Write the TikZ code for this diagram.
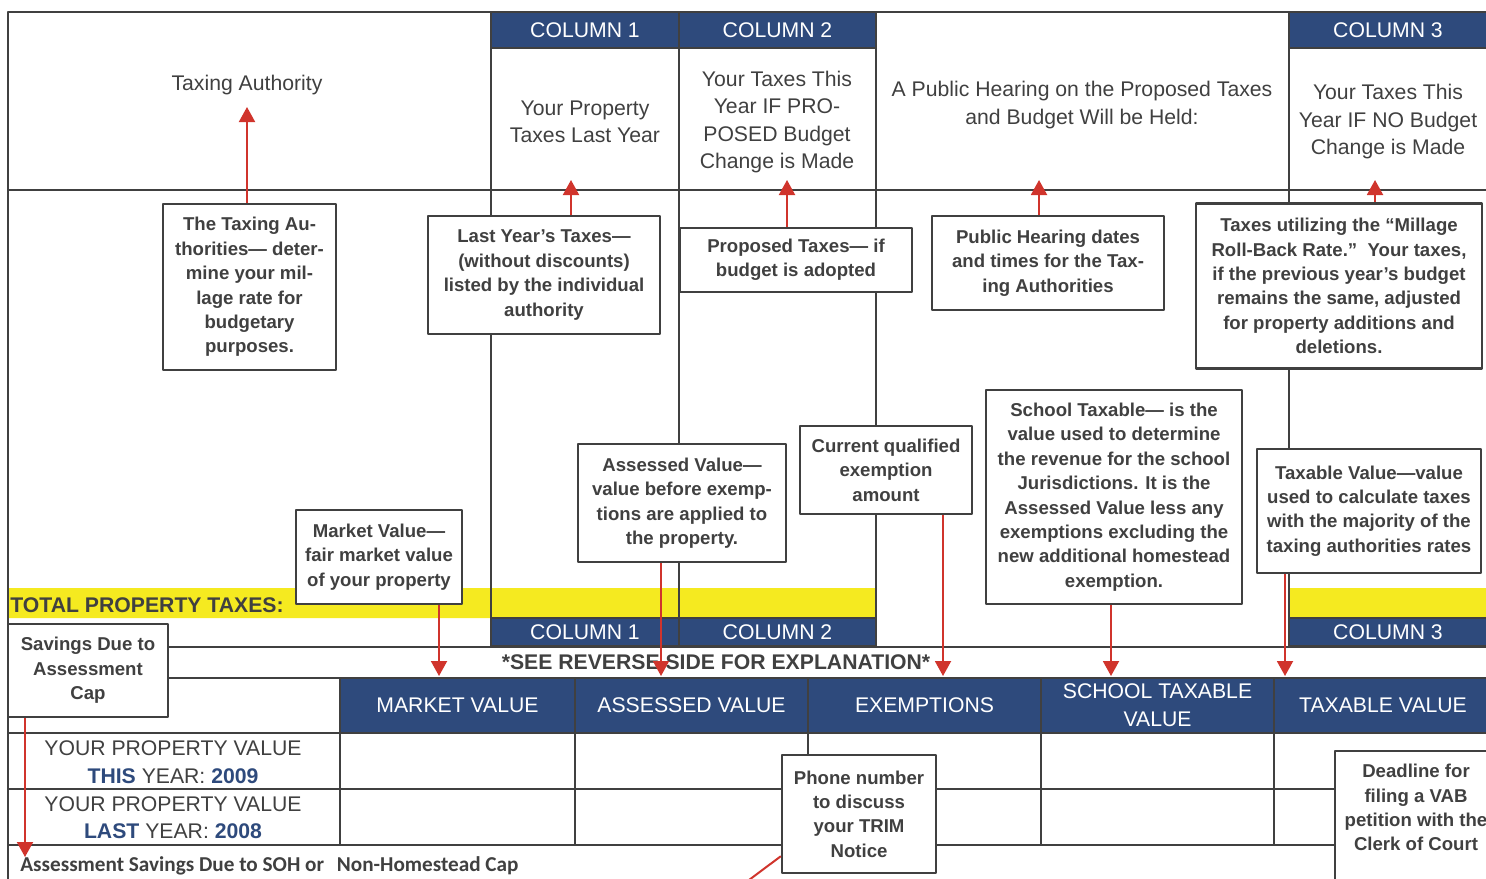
\documentclass[tikz,border=0pt]{standalone}
\usepackage{fontspec}
\setmainfont{Liberation Sans}
\newfontfamily\calfont{Carlito}
\usetikzlibrary{arrows.meta}
\definecolor{navy}{RGB}{46,74,124}
\definecolor{hiyel}{RGB}{245,234,32}
\definecolor{arrred}{RGB}{208,52,44}
\definecolor{ink}{RGB}{64,64,64}
\begin{document}
\begin{tikzpicture}[x=0.5pt,y=-0.5pt,line join=round,text=ink,
    font=\fontsize{10.6}{13.75}\selectfont,
    grid/.style={draw=ink,line width=1.2pt},
    box/.style={draw=ink,line width=1.2pt,fill=white,align=center,inner sep=0pt,
      font=\bfseries\fontsize{9.3}{12.2}\selectfont},
    colhead/.style={draw=ink,line width=1.2pt,fill=navy,text=white,inner sep=0pt},
    valhead/.style={colhead,minimum height=27.5pt,align=center,
      font=\fontsize{10.6}{14}\selectfont},
    redarr/.style={draw=arrred,line width=1pt,-{Triangle[width=8pt,length=7.5pt]}}]
  \useasboundingbox (0,0) rectangle (1486,878);
  \clip (0,0) rectangle (1486,878);
  % yellow total band
  \fill[hiyel] (8,588) rectangle (876,618) (1289,588) rectangle (1500,618);
  % frame and grid
  \draw[grid] (8,900) -- (8,12) -- (1500,12) (8,190) -- (1500,190);
  \foreach \x in {491,679,876,1289} \draw[grid] (\x,12) -- (\x,646);
  \foreach \y in {647,678} \draw[grid] (168,\y) -- (1500,\y);
  \foreach \y in {733,789,845} \draw[grid] (8,\y) -- (1500,\y);
  \foreach \x in {340,575,808,1041,1274} \draw[grid] (\x,678) -- (\x,845);
  % column heads
  \foreach \n/\a/\b/\y/\h/\t in {c1t/491/679/30/18/1,c2t/679/876/30/18/2,c3t/1289/1487/30/18/3,
      c1b/491/679/632/14/1,c2b/679/876/632/14/2,c3b/1289/1487/632/14/3}
    \node[colhead,minimum width={(\b-\a)*0.5pt},minimum height=\h pt] (\n) at ({(\a+\b)/2},\y) {COLUMN \t};
  \foreach \n/\a/\b/\t in {mv/340/575/MARKET VALUE,av/575/808/ASSESSED VALUE,ex/808/1041/EXEMPTIONS,
      st/1041/1274/{SCHOOL TAXABLE\\VALUE},tv/1274/1492/TAXABLE VALUE}
    \node[valhead,minimum width={(\b-\a)*0.5pt}] (\n) at ({(\a+\b)/2},705.5) {\t};
  % header texts
  \node (auth) at (247,85) {Taxing Authority};
  \node[align=center] (lasttx) at (585,122) {Your Property\\Taxes Last Year};
  \node[align=center] (proptx) at (777,122) {Your Taxes This\\Year IF PRO-\\POSED Budget\\Change is Made};
  \node[align=center] (hear) at (1082,105) {A Public Hearing on the Proposed Taxes\\and Budget Will be Held:};
  \node[align=center] (notx) at (1388,122) {Your Taxes This\\Year IF NO Budget\\Change is Made};
  \node[anchor=west,inner sep=0pt,font=\bfseries\fontsize{10.6}{12}\selectfont] (total) at (10,605) {TOTAL PROPERTY TAXES:};
  \node[font=\bfseries\fontsize{10.6}{12}\selectfont] (see) at (716,662) {*SEE REVERSE SIDE FOR EXPLANATION*};
  \node[align=center] (thisyr) at (173,762) {YOUR PROPERTY VALUE\\\textbf{\color{navy}THIS} YEAR: \textbf{\color{navy}2009}};
  \node[align=center] (lastyr) at (173,817.5) {YOUR PROPERTY VALUE\\\textbf{\color{navy}LAST} YEAR: \textbf{\color{navy}2008}};
  \node[anchor=west,inner sep=0pt,font=\calfont\bfseries\fontsize{10.6}{12}\selectfont] (soh) at (20,866)
    {Assessment Savings Due to SOH or\hspace{4pt} Non-Homestead Cap};
  % callout boxes
  \node[box,minimum width=86.5pt,minimum height=83pt] (authbox) at (249.5,287)
    {The Taxing Au-\\thorities— deter-\\mine your mil-\\lage rate for\\budgetary\\purposes.};
  \node[box,minimum width=116pt,minimum height=59pt] (lastbox) at (544,275)
    {Last Year’s Taxes—\\(without discounts)\\listed by the individual\\authority};
  \node[box,minimum width=116pt,minimum height=32pt] (propbox) at (796,260)
    {Proposed Taxes— if\\budget is adopted};
  \node[box,minimum width=116pt,minimum height=47pt] (hearbox) at (1048,263)
    {Public Hearing dates\\and times for the Tax-\\ing Authorities};
  \node[box,minimum width=143pt,minimum height=82.5pt] (millbox) at (1339,286)
    {Taxes utilizing the “Millage\\Roll-Back Rate.”\ \ Your taxes,\\if the previous year’s budget\\remains the same, adjusted\\for property additions and\\deletions.};
  \node[box,minimum width=83pt,minimum height=47pt] (mktbox) at (379,557)
    {Market Value—\\fair market value\\of your property};
  \node[box,minimum width=104pt,minimum height=59pt] (assbox) at (682,503)
    {Assessed Value—\\value before exemp-\\tions are applied to\\the property.};
  \node[box,minimum width=86pt,minimum height=44pt] (exbox) at (886,470)
    {Current qualified\\exemption\\amount};
  \node[box,minimum width=128pt,minimum height=107pt] (schbox) at (1114,497)
    {School Taxable— is the\\value used to determine\\the revenue for the school\\Jurisdictions. It is the\\Assessed Value less any\\exemptions excluding the\\new additional homestead\\exemption.};
  \node[box,minimum width=112pt,minimum height=62pt] (tvbox) at (1369,511)
    {Taxable Value—value\\used to calculate taxes\\with the majority of the\\taxing authorities rates};
  \node[box,minimum width=80pt,minimum height=46.5pt] (savbox) at (88,670.5)
    {Savings Due to\\Assessment\\Cap};
  \node[box,minimum width=77pt,minimum height=59pt] (phone) at (859,814)
    {Phone number\\to discuss\\your TRIM\\Notice};
  \node[box,minimum width=82pt,minimum height=80pt,anchor=north west] (dead) at (1334,750) {};
  \node[box,draw=none,fill=none,anchor=north] (deadtxt) at (1416,763)
    {Deadline for\\filing a VAB\\petition with the\\Clerk of Court};
  % red pointers
  \foreach \b/\x/\y in {authbox/247/107,lastbox/571/180,propbox/787/180,hearbox/1039/180,millbox/1375/180}
    {\coordinate (\b tip) at (\x,\y);
     \draw[redarr] (\b.north -| \b tip) -- (\b tip);}
  \foreach \b/\x/\y in {mktbox/439/676,assbox/661/676,exbox/943/676,schbox/1111/676,tvbox/1285/676,savbox/25/857}
    {\coordinate (\b tip) at (\x,\y);
     \draw[redarr] (\b.south -| \b tip) -- (\b tip);}
  \coordinate (phoneend) at (745,883);
  \draw[arrred,line width=1pt] ([yshift=9pt]phone.south west) -- (phoneend);
\end{tikzpicture}
\end{document}
